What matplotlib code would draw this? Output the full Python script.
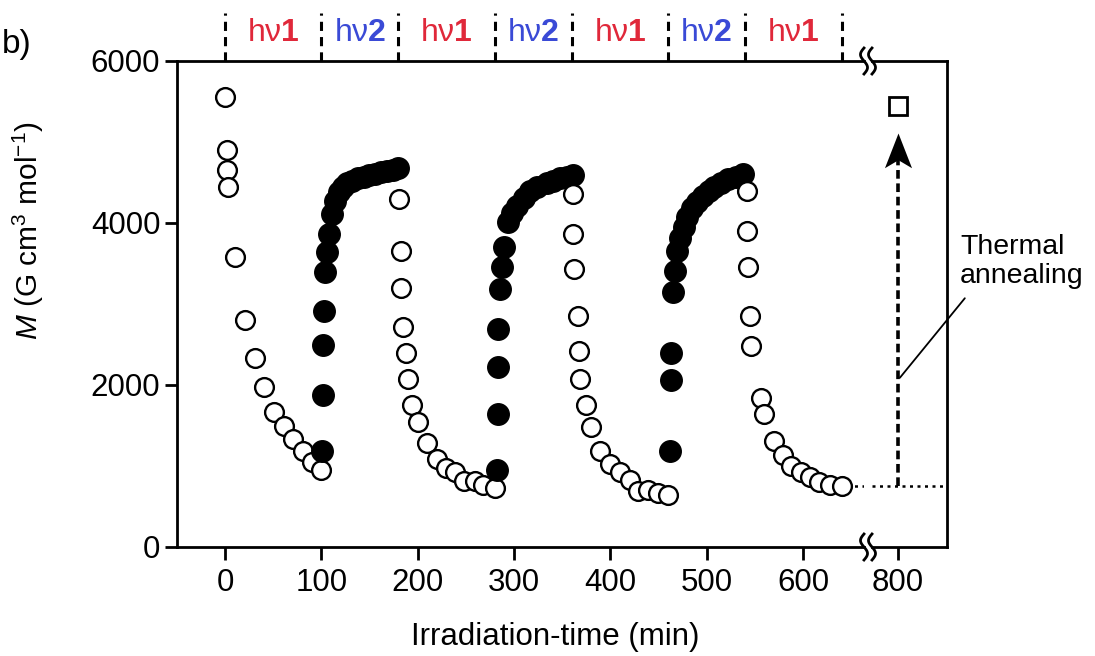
import numpy as np
import matplotlib.pyplot as plt
from matplotlib.lines import Line2D
from matplotlib.path import Path

plt.rcParams['font.family'] = ['Liberation Sans', 'DejaVu Sans']
plt.rcParams['mathtext.fontset'] = 'custom'
plt.rcParams['mathtext.rm'] = 'Liberation Sans'
plt.rcParams['mathtext.it'] = 'Liberation Sans:italic'
plt.rcParams['mathtext.bf'] = 'Liberation Sans:bold'

# hv1 irradiation (open circles): magnetization decays
t_hv1_a = [0, 2, 2, 3, 10, 21, 31, 40, 51, 61, 71, 81, 90, 100]
m_hv1_a = [5560, 4900, 4650, 4450, 3580, 2800, 2330, 1970, 1670, 1490, 1330, 1180, 1050, 950]
t_hv1_b = [181, 183, 183, 185, 188, 190, 194, 200, 210, 220, 229, 239, 248, 260, 268, 280]
m_hv1_b = [4300, 3650, 3200, 2710, 2390, 2070, 1750, 1540, 1290, 1090, 980, 920, 820, 810, 770, 730]
t_hv1_c = [361, 361, 362, 366, 367, 369, 375, 380, 389, 400, 410, 420, 429, 439, 450, 460]
m_hv1_c = [4360, 3870, 3430, 2850, 2420, 2080, 1750, 1480, 1180, 1020, 920, 830, 690, 700, 670, 645]
t_hv1_d = [542, 542, 543, 545, 546, 556, 560, 570, 579, 588, 598, 607, 617, 628, 640]
m_hv1_d = [4390, 3900, 3460, 2850, 2480, 1840, 1640, 1310, 1130, 1000, 920, 860, 800, 770, 750]

# hv2 irradiation (filled circles): magnetization recovers
t_hv2_a = [101, 102, 102, 103, 104, 106, 108, 111, 114, 118, 122, 127, 132, 138, 144, 150, 156, 162, 168, 174, 180]
m_hv2_a = [1180, 1880, 2500, 2910, 3400, 3640, 3870, 4110, 4270, 4380, 4450, 4490, 4520, 4550, 4570, 4590, 4610, 4630, 4640, 4660, 4680]
t_hv2_b = [282, 283, 283, 283, 285, 288, 290, 294, 298, 303, 310, 317, 324, 334, 341, 348, 355, 361]
m_hv2_b = [950, 1640, 2220, 2690, 3190, 3460, 3700, 4010, 4120, 4210, 4310, 4390, 4440, 4490, 4520, 4550, 4570, 4590]
t_hv2_c = [462, 463, 463, 465, 467, 469, 472, 476, 480, 485, 490, 496, 502, 508, 515, 522, 530, 538]
m_hv2_c = [1180, 2060, 2400, 3150, 3410, 3650, 3820, 3950, 4080, 4180, 4260, 4330, 4400, 4450, 4500, 4540, 4570, 4600]

# after thermal annealing
t_anneal = [800]
m_anneal = [5450]

# light periods along the top
seg_edges = [0, 100, 180, 280, 360, 460, 540, 640]
seg_light = ['1', '2', '1', '2', '1', '2', '1']
light_colors = {'1': '#e0283a', '2': '#3a4ad6'}

W, H = 1095, 656
fig = plt.figure(figsize=(W / 100, H / 100), dpi=100)
ax1 = fig.add_axes([177 / W, 1 - 547 / H, (864 - 177) / W, (547 - 61) / H])
ax2 = fig.add_axes([872 / W, 1 - 547 / H, (947 - 872) / W, (547 - 61) / H], sharey=ax1)

px_per_unit = 0.9633
ax1.set_xlim(-49.8, (864 - 225) / px_per_unit)
ax2.set_xlim(800 - (898 - 872) / px_per_unit, 800 + (947 - 898) / px_per_unit)
ax1.set_ylim(0, 6000)

open_kw = dict(ls='none', marker='o', ms=13.5, mfc='white', mec='black', mew=1.7)
fill_kw = dict(ls='none', marker='o', ms=15.5, mfc='black', mec='black', mew=1.0)

segments = [(t_hv1_a, m_hv1_a, open_kw), (t_hv2_a, m_hv2_a, fill_kw),
            (t_hv1_b, m_hv1_b, open_kw), (t_hv2_b, m_hv2_b, fill_kw),
            (t_hv1_c, m_hv1_c, open_kw), (t_hv2_c, m_hv2_c, fill_kw),
            (t_hv1_d, m_hv1_d, open_kw)]
for t, m, kw in segments:
    ax1.plot(t, m, **kw)

# dotted level of the final photo-state, carried over the axis break
m_final = m_hv1_d[-1]
ax1.plot([t_hv1_d[-1] + 6, ax1.get_xlim()[1]], [m_final, m_final],
         color='black', lw=1.8, ls=(0, (1.2, 1.8)), zorder=1)
ax2.axhline(m_final, color='black', lw=1.8, ls=(0, (1.2, 1.8)), zorder=1)

# thermal annealing arrow and recovered value
tip = m_anneal[0] - 340
ax2.plot([t_anneal[0], t_anneal[0]], [m_final, tip - 300], color='black',
         lw=2.6, dashes=(2.4, 1.3))
head = Path([(0, 0), (-0.39, -1), (0, -0.77), (0.39, -1), (0, 0)])
ax2.plot(t_anneal, [tip], ls='none', marker=head, ms=50, color='black', mew=0)
ax2.plot(t_anneal, m_anneal, ls='none', marker='s', ms=13, mfc='white',
         mec='black', mew=2)
ax2.annotate('Thermal\nannealing', xy=(t_anneal[0] + 2, 2090),
             xytext=(960, H - 234), textcoords='figure pixels',
             ha='left', va='top', fontsize=20.5, linespacing=1.15,
             annotation_clip=False,
             arrowprops=dict(arrowstyle='-', lw=1.3, color='black',
                             relpos=(0.1, 0.0), shrinkA=6, shrinkB=0))

# axes styling
for ax in (ax1, ax2):
    for s in ax.spines.values():
        s.set_linewidth(2)
    ax.tick_params(direction='out', length=9, width=2, labelsize=22.5, pad=6)
ax1.spines['right'].set_visible(False)
ax2.spines['left'].set_visible(False)
ax2.tick_params(left=False, labelleft=False)
ax1.tick_params(axis='y', pad=3)
ax1.set_xticks([0, 100, 200, 300, 400, 500, 600])
ax2.set_xticks(t_anneal)
ax1.set_yticks([0, 2000, 4000, 6000])

ax1.set_ylabel(r'$M$ (G cm$^{3}$ mol$^{-1}$)', fontsize=21.5)
ax1.yaxis.set_label_coords(-0.19, 0.65)
fig.text(555 / W, 1 - 637 / H, 'Irradiation-time (min)', ha='center',
         va='center', fontsize=22.5)
fig.text(2 / W, 1 - 45 / H, 'b)', ha='left', va='center', fontsize=24)

# light periods: dashed separators and hv labels above the frame
trans = ax1.get_xaxis_transform()
for e in seg_edges:
    ax1.plot([e, e], [1.0, 1.099], transform=trans, color='black', lw=2.2,
             dashes=(3.0, 2.0), clip_on=False)
for i, k in enumerate(seg_light):
    mid = (seg_edges[i] + seg_edges[i + 1]) / 2
    ax1.text(mid, 1.058, 'hν$\\mathbf{%s}$' % k, transform=trans,
             ha='center', va='center', fontsize=23, color=light_colors[k])


# break marks on the top and bottom spines
def squiggle(xc, yc):
    s = np.linspace(-1, 1, 40)
    xs = (xc + 3.5 * np.sin(np.pi * s)) / W
    ys = 1 - (yc + 13 * s) / H
    fig.add_artist(Line2D(xs, ys, transform=fig.transFigure, color='black', lw=2))


for yc in (61, 547):
    squiggle(864, yc)
    squiggle(872, yc)

fig.savefig('out.png', dpi=100)
